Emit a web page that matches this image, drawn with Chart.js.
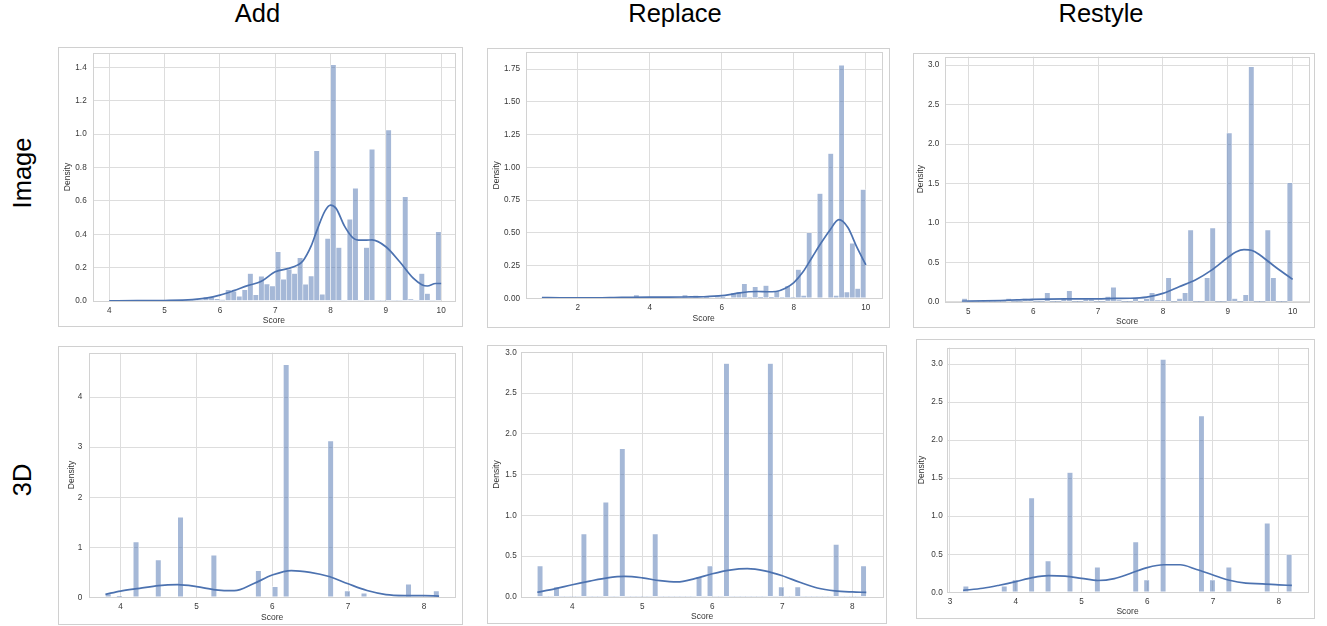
<!DOCTYPE html>
<html><head><meta charset="utf-8">
<script src="https://cdn.jsdelivr.net/npm/chart.js@4.4.1/dist/chart.umd.min.js"></script>
<style>
html,body{margin:0;padding:0;background:#fff;}
body{width:1327px;height:626px;position:relative;overflow:hidden;font-family:'Liberation Sans',Arial,sans-serif;}
.ttl{position:absolute;font-size:25.5px;line-height:1;color:#000;transform:translate(-50%,-50%);white-space:nowrap;}
.row{position:absolute;font-size:25.5px;line-height:1;color:#000;transform:translate(-50%,-50%) rotate(-90deg);white-space:nowrap;}
.frame{position:absolute;box-sizing:border-box;border:1px solid #d0d0d0;pointer-events:none;}
canvas{position:absolute;}
</style></head><body>
<div id="root"></div>
<script>
// ---------- labels ----------
const columnTitles = ['Add', 'Replace', 'Restyle'];
const rowTitles = ['Image', '3D'];

// ---------- Image / Add ----------
const rangeImageAdd = [4.0, 10.0];
const binsImageAdd = [
  0,0,0,0,0,0,0,0,0,0,
  0,0,0,0,0,0,0,0.024,0.022,0.014,
  0.008,0.068,0.058,0.028,0.068,0.165,0.038,0.148,0.102,0.09,
  0.295,0.13,0.19,0.165,0.26,0.10,0.15,0.90,0.04,0.375,
  1.415,0.32,0,0.49,0.675,0,0.32,0.91,0,0,
  1.025,0,0,0.625,0.012,0,0.165,0.045,0,0.415];
const kdeXImageAdd = [4,4.5,5,5.5,5.75,6,6.25,6.5,6.75,7,7.25,7.4,7.5,7.65,7.75,7.9,8,8.1,8.25,8.4,8.5,8.65,8.75,9,9.25,9.5,9.65,9.75,9.9,10];
const kdeYImageAdd = [0.001,0.002,0.003,0.008,0.017,0.035,0.062,0.092,0.118,0.175,0.196,0.215,0.24,0.33,0.42,0.54,0.575,0.555,0.45,0.38,0.365,0.365,0.366,0.325,0.235,0.135,0.098,0.09,0.105,0.105];
const xTicksImageAdd = [4,5,6,7,8,9,10];
const yTicksImageAdd = [0,0.2,0.4,0.6,0.8,1.0,1.2,1.4];

// ---------- Image / Replace ----------
const rangeImageReplace = [1.0, 10.0];
const binsImageReplace = [
  0.006,0,0,0,0,0,0,0,0,0,
  0,0,0,0,0,0,0,0.025,0.005,0,
  0,0,0,0,0,0,0.025,0,0.022,0,
  0.01,0,0.018,0.01,0,0.042,0.048,0.112,0.012,0.088,
  0.01,0.098,0.01,0.058,0.012,0.095,0.008,0.22,0.022,0.50,
  0,0.80,0,1.105,0.022,1.78,0.048,0.42,0.075,0.83];
const kdeXImageReplace = [1,1.5,2,2.5,3,3.5,4,4.5,5,5.5,6,6.25,6.5,6.75,7,7.25,7.5,7.75,8,8.25,8.5,8.75,9,9.25,9.5,9.75,10];
const kdeYImageReplace = [0.006,0.004,0.003,0.003,0.005,0.008,0.009,0.009,0.01,0.012,0.02,0.03,0.042,0.05,0.052,0.05,0.052,0.075,0.12,0.2,0.31,0.42,0.52,0.6,0.54,0.39,0.255];
const xTicksImageReplace = [2,4,6,8,10];
const yTicksImageReplace = [0,0.25,0.5,0.75,1.0,1.25,1.5,1.75];

// ---------- Image / Restyle ----------
const rangeImageRestyle = [4.9, 10.0];
const binsImageRestyle = [
  0.04,0,0,0,0,0,0,0,0.04,0,
  0,0.04,0.04,0,0,0.115,0,0,0.04,0.14,
  0,0,0.03,0.03,0,0,0.065,0.185,0.02,0,
  0,0.04,0,0.04,0.115,0.02,0.02,0.305,0,0.04,
  0.115,0.91,0,0,0.305,0.935,0,0,2.14,0.04,
  0,0.09,2.98,0,0,0.91,0.305,0,0,1.51];
const kdeXImageRestyle = [4.9,5.25,5.5,5.75,6,6.5,7,7.25,7.5,7.75,8,8.25,8.5,8.75,9,9.125,9.25,9.375,9.5,9.75,10];
const kdeYImageRestyle = [0.006,0.01,0.015,0.022,0.03,0.035,0.036,0.042,0.044,0.058,0.106,0.19,0.275,0.40,0.56,0.63,0.66,0.65,0.59,0.43,0.283];
const xTicksImageRestyle = [5,6,7,8,9,10];
const yTicksImageRestyle = [0,0.5,1.0,1.5,2.0,2.5,3.0];

// ---------- 3D / Add ----------
const range3DAdd = [3.8, 8.2];
const bins3DAdd = [
  0.067,0,0.03,0,0,1.107,0,0,0,0.747,
  0,0,0,1.60,0,0,0,0,0,0.84,
  0,0,0,0,0,0,0,0.533,0,0,
  0.213,0,4.647,0,0,0,0,0,0,0,
  3.127,0,0,0.127,0,0,0.08,0,0,0,
  0,0,0,0,0.26,0,0,0,0,0.127];
const kdeX3DAdd = [3.8,4,4.25,4.5,4.75,5,5.25,5.5,5.75,6,6.25,6.5,6.75,7,7.25,7.5,7.75,8,8.2];
const kdeY3DAdd = [0.06,0.125,0.18,0.235,0.253,0.215,0.15,0.133,0.27,0.445,0.535,0.5,0.415,0.27,0.135,0.055,0.035,0.033,0.025];
const xTicks3DAdd = [4,5,6,7,8];
const yTicks3DAdd = [0,1,2,3,4];

// ---------- 3D / Replace ----------
const range3DReplace = [3.5, 8.2];
const bins3DReplace = [
  0.38,0,0,0.122,0,0,0,0,0.771,0,
  0,0,1.163,0,0,1.816,0,0,0,0,
  0,0.771,0,0,0,0,0,0,0,0.249,
  0,0.38,0,0,2.861,0,0,0,0,0,
  0,0,2.861,0,0.122,0,0,0.122,0,0,
  0,0,0,0,0.645,0,0,0,0,0.38];
const kdeX3DReplace = [3.5,3.75,4,4.25,4.5,4.75,5,5.25,5.5,5.75,6,6.25,6.5,6.75,7,7.25,7.5,7.75,8,8.2];
const kdeY3DReplace = [0.058,0.1,0.15,0.195,0.235,0.253,0.235,0.2,0.185,0.225,0.285,0.33,0.347,0.32,0.26,0.18,0.11,0.075,0.062,0.057];
const xTicks3DReplace = [4,5,6,7,8];
const yTicks3DReplace = [0,0.5,1.0,1.5,2.0,2.5,3.0];

// ---------- 3D / Restyle ----------
const range3DRestyle = [3.2, 8.2];
const bins3DRestyle = [
  0.079,0,0,0,0,0,0,0.079,0,0.162,
  0,0,1.241,0,0,0.412,0,0,0,1.575,
  0,0,0,0,0.329,0,0,0,0,0,
  0,0.662,0,0.162,0,0,3.061,0,0,0,
  0,0,0,2.316,0,0.162,0,0,0.329,0,
  0,0,0,0,0,0.908,0,0,0,0.496];
const kdeX3DRestyle = [3.2,3.5,3.75,4,4.25,4.5,4.75,5,5.25,5.5,5.75,6,6.25,6.5,6.75,7,7.25,7.5,7.75,8,8.2];
const kdeY3DRestyle = [0.025,0.053,0.093,0.14,0.193,0.22,0.212,0.184,0.155,0.18,0.25,0.325,0.362,0.362,0.3,0.228,0.158,0.12,0.112,0.098,0.09];
const xTicks3DRestyle = [3,4,5,6,7,8];
const yTicks3DRestyle = [0,0.5,1.0,1.5,2.0,2.5,3.0];

// ---------- layout (positions / styles only) ----------
const panels = [
  {bins:binsImageAdd, range:rangeImageAdd, kx:kdeXImageAdd, ky:kdeYImageAdd, xt:xTicksImageAdd, yt:yTicksImageAdd, dec:1,
   xLim:[3.7,10.25], yMax:1.486, frame:[58,47,405,280], plot:[92.7,53,455,301], yPad:6, densX:67.7, scoreY:321},
  {bins:binsImageReplace, range:rangeImageReplace, kx:kdeXImageReplace, ky:kdeYImageReplace, xt:xTicksImageReplace, yt:yTicksImageReplace, dec:2,
   xLim:[0.55,10.44], yMax:1.878, frame:[487,48,403,280], plot:[525.7,52.3,881.7,298.3], yPad:5.7, densX:496.7, scoreY:318.7},
  {bins:binsImageRestyle, range:rangeImageRestyle, kx:kdeXImageRestyle, ky:kdeYImageRestyle, xt:xTicksImageRestyle, yt:yTicksImageRestyle, dec:1,
   xLim:[4.64,10.257], yMax:3.108, frame:[913,53,402,275], plot:[945,56.7,1309.3,301.7], yPad:5.7, densX:920.7, scoreY:321.7},
  {bins:bins3DAdd, range:range3DAdd, kx:kdeX3DAdd, ky:kdeY3DAdd, xt:xTicks3DAdd, yt:yTicks3DAdd, dec:0,
   xLim:[3.587,8.41], yMax:4.89, frame:[58,346,405,279], plot:[89.3,352.7,455,597.3], yPad:7, densX:71.7, scoreY:617.3},
  {bins:bins3DReplace, range:range3DReplace, kx:kdeX3DReplace, ky:kdeY3DReplace, xt:xTicks3DReplace, yt:yTicks3DReplace, dec:1,
   xLim:[3.267,8.443], yMax:3.003, frame:[487,345,400,279], plot:[521,352,883.3,597], yPad:4.3, densX:496.7, scoreY:616.7},
  {bins:bins3DRestyle, range:range3DRestyle, kx:kdeX3DRestyle, ky:kdeY3DRestyle, xt:xTicks3DRestyle, yt:yTicks3DRestyle, dec:1,
   xLim:[2.95,8.45], yMax:3.215, frame:[916,339,399,280], plot:[946.7,347.7,1308.3,592.3], yPad:4, densX:922, scoreY:611.7}
];
const colTitlePos = [[257.5,14],[675,14],[1101,14]];
const rowTitlePos = [[22.8,172.5],[22.8,480]];

const FONT = "'Liberation Sans', Arial, sans-serif";
const BAR = 'rgba(76,114,176,0.5)';
const LINE = '#4C72B0';
const GRID = '#dddddd';
const SPINE = '#d2d2d2';
const TICK = '#383838';
const LABEL = '#333333';
const TICK_SIZE = 8.2, LABEL_SIZE = 8.5;

Chart.defaults.font.family = FONT;
const root = document.getElementById('root');

columnTitles.forEach((t, i) => {
  const d = document.createElement('div');
  d.className = 'ttl'; d.textContent = t;
  d.style.left = colTitlePos[i][0] + 'px'; d.style.top = colTitlePos[i][1] + 'px';
  root.appendChild(d);
});
rowTitles.forEach((t, i) => {
  const d = document.createElement('div');
  d.className = 'row'; d.textContent = t;
  d.style.left = rowTitlePos[i][0] + 'px'; d.style.top = rowTitlePos[i][1] + 'px';
  root.appendChild(d);
});

const spinePlugin = {
  id: 'spines',
  afterDatasetsDraw(chart) {
    const a = chart.chartArea, ctx = chart.ctx;
    const l = Math.round(a.left), t = Math.round(a.top), r = Math.round(a.right), b = Math.round(a.bottom);
    ctx.save();
    ctx.strokeStyle = SPINE; ctx.lineWidth = 1;
    ctx.strokeRect(l + 0.5, t + 0.5, r - l, b - t);
    ctx.restore();
  }
};

panels.forEach(p => {
  const [fl, ft, fw, fh] = p.frame;
  const [pl, pt, pr, pb] = p.plot;
  const cv = document.createElement('canvas');
  cv.width = fw; cv.height = fh;
  cv.style.left = fl + 'px'; cv.style.top = ft + 'px';
  cv.style.width = fw + 'px'; cv.style.height = fh + 'px';
  root.appendChild(cv);
  const fr = document.createElement('div');
  fr.className = 'frame';
  fr.style.left = fl + 'px'; fr.style.top = ft + 'px';
  fr.style.width = fw + 'px'; fr.style.height = fh + 'px';
  root.appendChild(fr);

  const n = p.bins.length;
  const w = (p.range[1] - p.range[0]) / n;
  const barData = p.bins.map((v, k) => ({x: p.range[0] + (k + 0.5) * w, y: v}));
  const kdeData = p.kx.map((x, i) => ({x: x, y: p.ky[i]}));

  const yW = pl - fl;
  const xH = ft + fh - pb;
  const padTop = pt - ft;
  const padRight = fl + fw - pr;
  const densPad = (p.densX - fl) - LABEL_SIZE / 2;
  const scorePad = (ft + fh - p.scoreY) - LABEL_SIZE / 2;

  new Chart(cv, {
    type: 'bar',
    data: {
      datasets: [
        {type: 'line', data: kdeData, borderColor: LINE, borderWidth: 1.7, pointRadius: 0,
         cubicInterpolationMode: 'monotone', fill: false, order: 0},
        {type: 'bar', data: barData, backgroundColor: BAR, borderColor: 'rgba(255,255,255,0.85)',
         borderWidth: c => (c.raw && c.raw.y > 0 ? 0.6 : 0), borderSkipped: false,
         categoryPercentage: 1, barPercentage: 1, order: 1}
      ]
    },
    options: {
      responsive: false, animation: false, devicePixelRatio: 1,
      layout: {padding: {top: padTop, right: padRight, left: 0, bottom: 0}},
      plugins: {legend: {display: false}, tooltip: {enabled: false}},
      scales: {
        x: {
          type: 'linear', min: p.xLim[0], max: p.xLim[1], offset: false,
          grid: {color: GRID, lineWidth: 1, drawTicks: false, offset: false},
          border: {display: false},
          ticks: {color: TICK, font: {size: TICK_SIZE, lineHeight: 1.2}, padding: 4.8, maxRotation: 0, autoSkip: false,
                  callback: v => String(v)},
          title: {display: true, text: 'Score', color: LABEL, font: {size: LABEL_SIZE, lineHeight: 1},
                  padding: {top: 0, bottom: scorePad}},
          afterBuildTicks: s => { s.ticks = p.xt.map(v => ({value: v})); },
          afterFit: s => { s.height = xH; s.paddingLeft = 0; s.paddingRight = 0; s.paddingTop = 0; s.paddingBottom = 0; }
        },
        y: {
          type: 'linear', min: 0, max: p.yMax,
          grid: {color: GRID, lineWidth: 1, drawTicks: false},
          border: {display: false},
          ticks: {color: TICK, font: {size: TICK_SIZE, lineHeight: 1.2}, padding: p.yPad, autoSkip: false,
                  callback: v => Number(v).toFixed(p.dec)},
          title: {display: true, text: 'Density', color: LABEL, font: {size: LABEL_SIZE, lineHeight: 1},
                  padding: {top: densPad, bottom: 0}},
          afterBuildTicks: s => { s.ticks = p.yt.map(v => ({value: v})); },
          afterFit: s => { s.width = yW; s.paddingLeft = 0; s.paddingRight = 0; s.paddingTop = 0; s.paddingBottom = 0; }
        }
      }
    },
    plugins: [spinePlugin]
  });
});
</script>
</body></html>
